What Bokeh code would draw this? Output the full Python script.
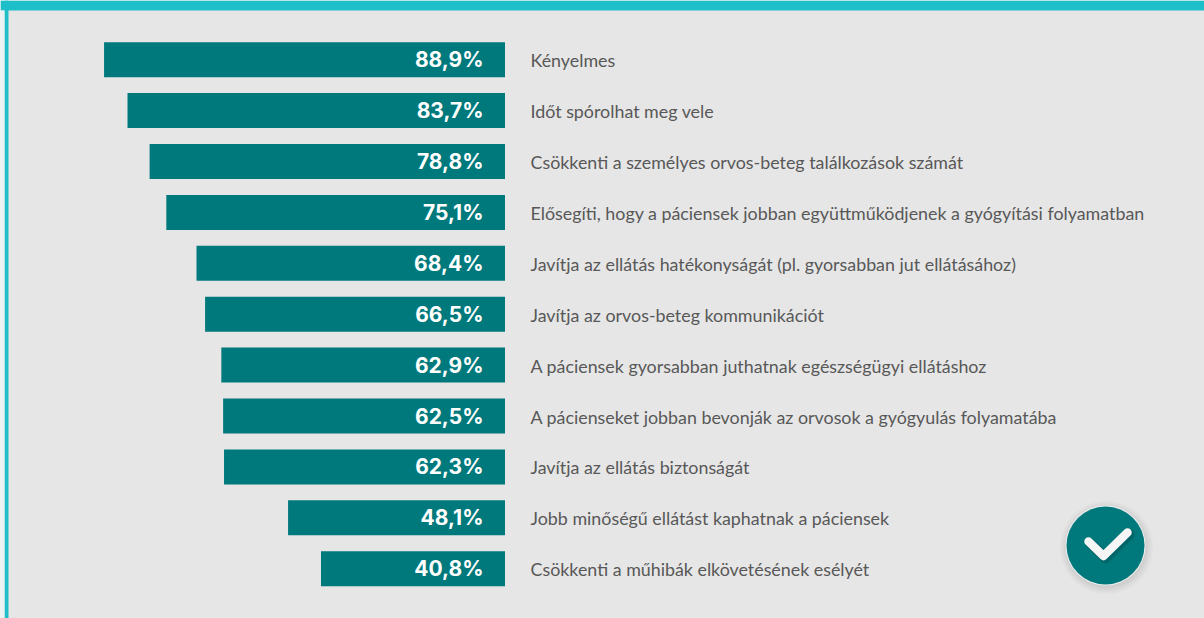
from bokeh.plotting import figure
from bokeh.models import Range1d, ColumnDataSource
from bokeh.core.properties import value
from bokeh.embed import file_html
from bokeh.resources import INLINE

categories = ["Kényelmes", "Időt spórolhat meg vele", "Csökkenti a személyes orvos-beteg találkozások számát",
              "Elősegíti, hogy a páciensek jobban együttműködjenek a gyógyítási folyamatban",
              "Javítja az ellátás hatékonyságát (pl. gyorsabban jut ellátásához)",
              "Javítja az orvos-beteg kommunikációt", "A páciensek gyorsabban juthatnak egészségügyi ellátáshoz",
              "A pácienseket jobban bevonják az orvosok a gyógyulás folyamatába", "Javítja az ellátás biztonságát",
              "Jobb minőségű ellátást kaphatnak a páciensek", "Csökkenti a műhibák elkövetésének esélyét"]
values = [88.9, 83.7, 78.8, 75.1, 68.4, 66.5, 62.9, 62.5, 62.3, 48.1, 40.8]
value_labels = ["88,9%", "83,7%", "78,8%", "75,1%", "68,4%", "66,5%", "62,9%", "62,5%", "62,3%", "48,1%", "40,8%"]

W, H = 1204, 618
X0, KX = 504.5, 4.51
Y0, KY = 59.2, 50.9
def dx(px): return (X0 - px) / KX
def dy(py): return (py - Y0) / KY

p = figure(width=W, height=H, output_backend="svg", toolbar_location=None,
           x_range=Range1d(dx(0), dx(W)), y_range=Range1d(dy(H), dy(0)),
           min_border=0, outline_line_color=None, background_fill_color="#e6e6e6",
           border_fill_color="#e6e6e6", margin=(0, 0, 0, 0))
p.axis.visible = False
p.grid.visible = False

src = ColumnDataSource(dict(y=list(range(len(values))), v=values, t=value_labels, c=categories, z=[0]*len(values)))
p.hbar(y="y", left="v", right="z", height=35/KY, source=src, fill_color="#00797c", line_color=None)
p.text(x="z", y="y", text="t", source=src, x_offset=-21.5, text_align="right", text_baseline="middle",
       text_color="white", text_font=value("Inter"), text_font_size="21px", text_font_style="bold")
p.text(x="z", y="y", text="c", source=src, x_offset=25.5, y_offset=0.5, text_align="left", text_baseline="middle",
       text_color="#585858", text_font=value("Lato"), text_font_size="17.85px")

p.quad(left=dx(0), right=dx(W), top=dy(0), bottom=dy(10), fill_color="#1fbfca", line_color=None)
p.quad(left=dx(4), right=dx(8), top=dy(0), bottom=dy(H), fill_color="#1fbfca", line_color=None)
p.quad(left=dx(0), right=dx(4), top=dy(10), bottom=dy(H), fill_color="#e9f3f4", line_color=None)

cx, cy, r = 1105, 545, 39
for i in range(8):
    p.scatter([dx(cx + 1)], [dy(cy + 2)], size=2*(r + 8 - i), fill_color="black", fill_alpha=0.012, line_color=None)
p.scatter([dx(cx)], [dy(cy)], size=2*r + 2, fill_color="#eeeeee", line_color=None)
p.scatter([dx(cx)], [dy(cy)], size=2*r, fill_color="#00797c", line_color=None)
cxs = [1088, 1103, 1127]
cys = [541, 555.5, 532]
for i in range(4):
    p.line([dx(x + 2) for x in cxs], [dy(y + 2) for y in cys], line_width=9 + i, line_alpha=0.04,
           line_color="black", line_cap="round", line_join="round")
p.line([dx(x) for x in cxs], [dy(y) for y in cys], line_width=8.5, line_color="#f6f6f6",
       line_cap="round", line_join="round")

open("out.html", "w").write(file_html(p, INLINE))
